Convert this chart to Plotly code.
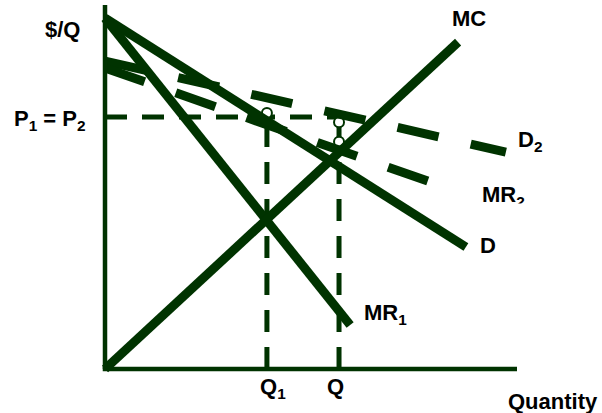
import plotly.graph_objects as go

# ---------------- data (abstract units: quantity 0-100, price 0-100) ----------------
d_x = [0, 87.6]
d_y = [96.4, 33.5]
mr1_x = [0, 59.5]
mr1_y = [96.4, 12.1]
mc_x = [0, 85.7]
mc_y = [0, 89.8]
d2_x = [0, 97.3]
d2_y = [84.6, 59.6]
mr2_x = [0, 78.9]
mr2_y = [82.7, 51.4]
p_level = 69.2
q1 = 39.3
q = 56.8
circle_x = [39.3, 56.8, 56.8]
circle_y = [70.3, 67.8, 62.4]

# ---------------- layout geometry ----------------
W, H = 602, 413
ML, MR, MT, MB = 90, 70, 0, 30
X0_PX, X100_PX = 105, 517      # pixel of x=0 and x=100
Y0_PX, Y100_PX = 369, 5        # pixel of y=0 and y=100
sx = (X100_PX - X0_PX) / 100.0
sy = (Y0_PX - Y100_PX) / 100.0
x_range = [-(X0_PX - ML) / sx, 100 + ((W - MR) - X100_PX) / sx]
y_range = [-((H - MB) - Y0_PX) / sy, 100 + (Y100_PX - MT) / sy]
PW = W - ML - MR
PH = H - MT - MB


def px2paper_x(px):
    return (px - ML) / PW


def px2paper_y(py):
    return ((H - MB) - py) / PH


GREEN = "#003300"
fig = go.Figure()

# thin dashed guide lines
fig.add_trace(go.Scatter(x=[0, q], y=[p_level, p_level], mode="lines",
                         line=dict(color=GREEN, width=5, dash="22px,15px")))
fig.add_trace(go.Scatter(x=[q1, q1], y=[0, p_level], mode="lines",
                         line=dict(color=GREEN, width=5, dash="22px,15px")))
fig.add_trace(go.Scatter(x=[q, q], y=[0, p_level], mode="lines",
                         line=dict(color=GREEN, width=5, dash="22px,15px")))

# small circles
fig.add_trace(go.Scatter(x=circle_x, y=circle_y, mode="markers",
                         marker=dict(symbol="circle", size=10, color="white",
                                     line=dict(color=GREEN, width=2)),
                         cliponaxis=False))

# thick dashed curves
for xs, ys in [(d2_x, d2_y), (mr2_x, mr2_y)]:
    fig.add_trace(go.Scatter(x=xs, y=ys, mode="lines",
                             line=dict(color=GREEN, width=9, dash="42px,33px")))

# thick solid curves
for xs, ys in [(d_x, d_y), (mr1_x, mr1_y), (mc_x, mc_y)]:
    fig.add_trace(go.Scatter(x=xs, y=ys, mode="lines",
                             line=dict(color=GREEN, width=9)))

# axes drawn as shapes
fig.add_shape(type="line", x0=0, y0=0, x1=0, y1=100, xref="x", yref="y",
              line=dict(color=GREEN, width=4.5))
fig.add_shape(type="line", x0=-0.55, y0=0, x1=100, y1=0, xref="x", yref="y",
              line=dict(color=GREEN, width=4.5))

FONT = dict(family="Liberation Sans, Arial, sans-serif", size=22, color="black")
labels = [
    ("<b>$/Q</b>", 62, 30),
    ("<b>P<sub>1</sub> = P<sub>2</sub></b>", 50, 120),
    ("<b>MC</b>", 469, 18),
    ("<b>D<sub>2</sub></b>", 530, 141),
    ("<b>MR<sub>2</sub></b>", 503, 196),
    ("<b>D</b>", 488, 245),
    ("<b>MR<sub>1</sub></b>", 385, 314),
    ("<b>Q<sub>1</sub></b>", 273, 388),
    ("<b>Q</b>", 335, 386),
    ("<b>Quantity</b>", 553, 401),
]
for txt, px, py in labels:
    fig.add_annotation(text=txt, x=px2paper_x(px), y=px2paper_y(py),
                       xref="paper", yref="paper",
                       showarrow=False, xanchor="center", yanchor="middle",
                       font=FONT)

# white strip that clips the bottom of the MR2 subscript, as in the original
fig.add_annotation(text=" ", x=px2paper_x(505), y=px2paper_y(203),
                   xref="paper", yref="paper", showarrow=False,
                   xanchor="center", yanchor="top", width=56, height=12,
                   bgcolor="white", borderpad=0, font=dict(size=6))

fig.update_layout(
    width=W, height=H,
    margin=dict(l=ML, r=MR, t=MT, b=MB, pad=0),
    paper_bgcolor="white", plot_bgcolor="white",
    showlegend=False,
    xaxis=dict(range=x_range, visible=False, fixedrange=True),
    yaxis=dict(range=y_range, visible=False, fixedrange=True),
)

fig.write_html("out.html", config={"displayModeBar": False},
               post_script="document.body.style.margin='0px';")
